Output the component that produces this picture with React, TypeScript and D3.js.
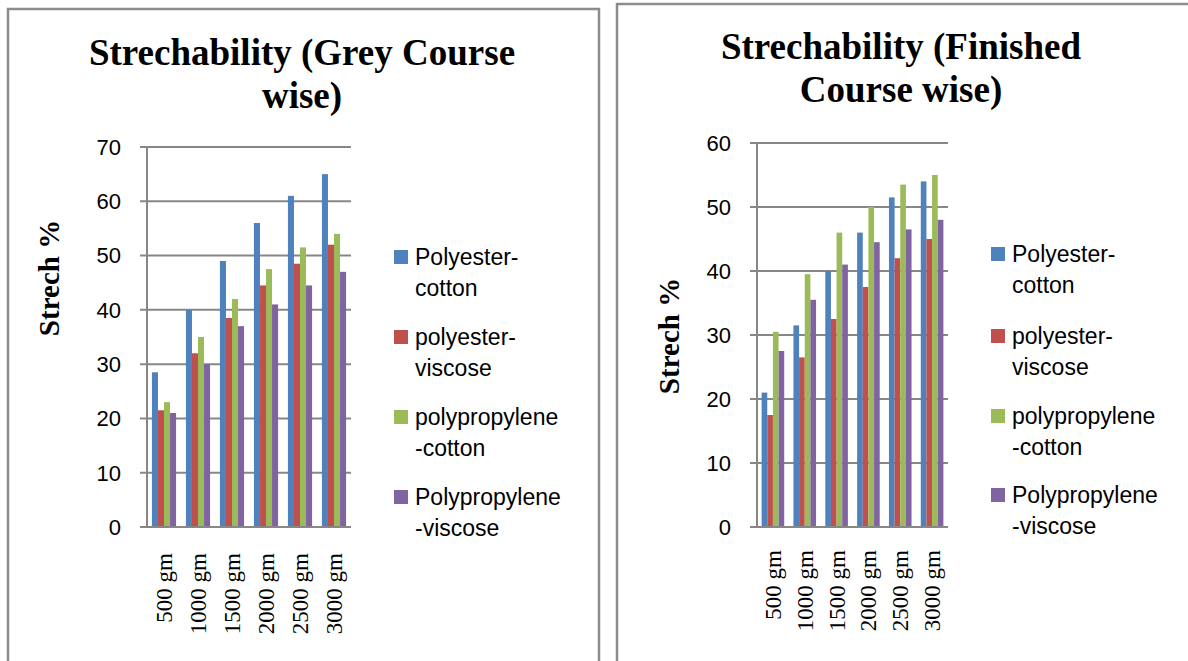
import React from "react";
import * as d3 from "d3";

const categories = ["500 gm", "1000 gm", "1500 gm", "2000 gm", "2500 gm", "3000 gm"];
const seriesLabels = [
  ["Polyester-", "cotton"],
  ["polyester-", "viscose"],
  ["polypropylene", "-cotton"],
  ["Polypropylene", "-viscose"],
];
const colors = ["#4F81BD", "#C0504D", "#9BBB59", "#8064A2"];

// grey fabric, course wise
const greyPolyCotton = [28.5, 40, 49, 56, 61, 65];
const greyPolyViscose = [21.5, 32, 38.5, 44.5, 48.5, 52];
const greyPropCotton = [23, 35, 42, 47.5, 51.5, 54];
const greyPropViscose = [21, 30, 37, 41, 44.5, 47];
const greyTicks = [0, 10, 20, 30, 40, 50, 60, 70];

// finished fabric, course wise
const finPolyCotton = [21, 31.5, 40, 46, 51.5, 54];
const finPolyViscose = [17.5, 26.5, 32.5, 37.5, 42, 45];
const finPropCotton = [30.5, 39.5, 46, 50, 53.5, 55];
const finPropViscose = [27.5, 35.5, 41, 44.5, 46.5, 48];
const finTicks = [0, 10, 20, 30, 40, 50, 60];

const GRID = "#878787";
const SANS = "'Liberation Sans', Arial, sans-serif";
const SERIF = "'Liberation Serif', 'Times New Roman', serif";

type ChartProps = {
  title: string[];
  series: number[][];
  ticks: number[];
  frameX: number;
  frameY: number;
  frameW: number;
  x0: number;
  x1: number;
  yTop: number;
  yBottom: number;
  titleX: number;
  titleY: number;
  yLabelX: number;
  yLabelY: number;
  tickRight: number;
  xLabelTop: number;
  legendX: number;
  legendTops: number[];
};

function Chart(p: ChartProps) {
  const x = d3.scaleBand<string>().domain(categories).range([p.x0, p.x1]).paddingInner(0.29).paddingOuter(0.145);
  const inner = d3.scaleBand<number>().domain(d3.range(p.series.length)).range([0, x.bandwidth()]);
  const y = d3
    .scaleLinear()
    .domain([0, d3.max(p.ticks) as number])
    .range([p.yBottom, p.yTop]);

  return (
    <g>
      <rect x={p.frameX} y={p.frameY} width={p.frameW} height={700} fill="white" stroke="#8c8c8c" strokeWidth={2.5} />
      {p.title.map((t, i) => (
        <text key={t} x={p.titleX} y={p.titleY + i * 43} textAnchor="middle" fontFamily={SERIF} fontWeight="bold" fontSize={37}>
          {t}
        </text>
      ))}
      {p.ticks.map((t) => (
        <g key={t}>
          <line x1={p.x0 - 7} x2={p.x1} y1={y(t)} y2={y(t)} stroke={GRID} strokeWidth={2} />
          <text x={p.tickRight} y={y(t)} dy="0.36em" textAnchor="end" fontFamily={SANS} fontSize={22}>
            {t}
          </text>
        </g>
      ))}
      <line x1={p.x0} x2={p.x0} y1={p.yTop} y2={p.yBottom} stroke={GRID} strokeWidth={2} />
      {p.series.map((vals, si) =>
        vals.map((v, ci) => (
          <rect
            key={si + "-" + ci}
            x={(x(categories[ci]) as number) + (inner(si) as number)}
            y={y(v)}
            width={inner.bandwidth()}
            height={y(0) - y(v)}
            fill={colors[si]}
          />
        ))
      )}
      <line x1={p.x0} x2={p.x1} y1={p.yBottom} y2={p.yBottom} stroke={GRID} strokeWidth={2} />
      {categories.map((c) => (
        <text
          key={c}
          transform={`translate(${(x(c) as number) + x.bandwidth() / 2 + 8},${p.xLabelTop}) rotate(-90)`}
          textAnchor="end"
          fontFamily={SERIF}
          fontSize={23}
        >
          {c}
        </text>
      ))}
      <text
        transform={`translate(${p.yLabelX},${p.yLabelY}) rotate(-90)`}
        textAnchor="middle"
        fontFamily={SERIF}
        fontWeight="bold"
        fontSize={29}
      >
        Strech %
      </text>
      {seriesLabels.map((lines, i) => (
        <g key={i}>
          <rect x={p.legendX} y={p.legendTops[i]} width={14} height={14} fill={colors[i]} />
          {lines.map((l, j) => (
            <text key={l} x={p.legendX + 21} y={p.legendTops[i] + 15 + j * 31} fontFamily={SANS} fontSize={23}>
              {l}
            </text>
          ))}
        </g>
      ))}
    </g>
  );
}

export default function App() {
  return (
    <div style={{ position: "absolute", left: 0, top: 0 }}>
      <svg width={1188} height={661} style={{ display: "block", background: "white" }}>
        <Chart
          title={["Strechability (Grey Course", "wise)"]}
          series={[greyPolyCotton, greyPolyViscose, greyPropCotton, greyPropViscose]}
          ticks={greyTicks}
          frameX={8}
          frameY={9}
          frameW={591}
          x0={147}
          x1={351}
          yTop={147}
          yBottom={527}
          titleX={302}
          titleY={65}
          yLabelX={59}
          yLabelY={278}
          tickRight={121}
          xLabelTop={553}
          legendX={394}
          legendTops={[250, 330, 410, 490]}
        />
        <Chart
          title={["Strechability (Finished", "Course wise)"]}
          series={[finPolyCotton, finPolyViscose, finPropCotton, finPropViscose]}
          ticks={finTicks}
          frameX={617}
          frameY={4}
          frameW={600}
          x0={757}
          x1={948}
          yTop={143}
          yBottom={527}
          titleX={901}
          titleY={59}
          yLabelX={679}
          yLabelY={336}
          tickRight={731}
          xLabelTop={550}
          legendX={991}
          legendTops={[247, 329, 409, 488]}
        />
      </svg>
    </div>
  );
}
